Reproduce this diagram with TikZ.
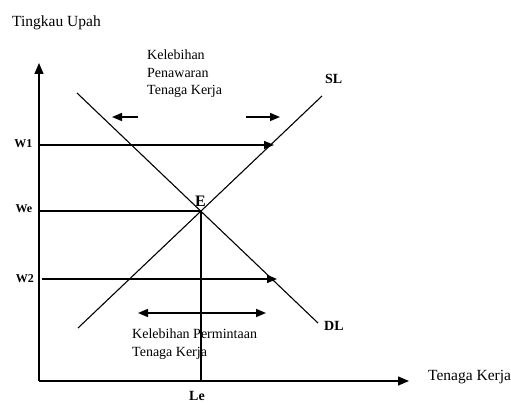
\documentclass[tikz,border=0pt]{standalone}
\usepackage{fontspec}
\setmainfont{Liberation Serif}
\usetikzlibrary{arrows.meta}
\begin{document}
\begin{tikzpicture}[x=1pt,y=-1pt,
  axis/.style={line width=1.5pt,-{Triangle[length=11pt,width=9pt]}},
  curve/.style={line width=1.1pt},
  lvl/.style={line width=1.3pt},
  lvlarr/.style={line width=1.3pt,-{Triangle[length=10pt,width=8pt]}},
  darr/.style={line width=1.5pt,-{Triangle[length=10pt,width=8pt]}},
  ddarr/.style={line width=1.5pt,{Triangle[length=10pt,width=8pt]}-{Triangle[length=10pt,width=8pt]}},
  txt/.style={inner sep=0pt,font=\fontsize{14}{17}\selectfont},
  big/.style={inner sep=0pt,font=\fontsize{15.5}{18}\selectfont},
  blab/.style={inner sep=0pt,font=\fontsize{12}{14}\selectfont\bfseries},
  clab/.style={inner sep=0pt,font=\fontsize{14}{16}\selectfont\bfseries}]
\useasboundingbox (0,0) rectangle (511,403);
% coordinates
\coordinate (O) at (39,381);
\coordinate (Ytop) at (39,63);
\coordinate (Xend) at (409,381);
\coordinate (W1a) at (39,145);
\coordinate (W1b) at (274,145);
\coordinate (Wea) at (39,211);
\coordinate (E) at (201,211);
\coordinate (W2a) at (42,279);
\coordinate (W2b) at (277,279);
\coordinate (Lefoot) at (201,381);
\coordinate (D1) at (77,93);
\coordinate (D2) at (318,323);
\coordinate (S1) at (78,328);
\coordinate (S2) at (322,96);
\coordinate (La) at (138,117);
\coordinate (Lt) at (112,117);
\coordinate (Ra) at (246,117);
\coordinate (Rt) at (280,117);
\coordinate (B1) at (138,313);
\coordinate (B2) at (266,313);
% axes
\draw[axis] (O) -- (Ytop);
\draw[axis] (O) -- (Xend);
% curves
\draw[curve] (D1) -- (D2);
\draw[curve] (S1) -- (S2);
% levels
\draw[lvlarr] (W1a) -- (W1b);
\draw[lvl] (Wea) -- (E);
\draw[lvlarr] (W2a) -- (W2b);
\draw[lvl] (E) -- (Lefoot);
% excess arrows
\draw[darr] (La) -- (Lt);
\draw[darr] (Ra) -- (Rt);
\draw[ddarr] (B1) -- (B2);
% texts
\node[big,anchor=base west] (ty) at (12,27) {Tingkau Upah};
\node[big,anchor=base west] (tx) at (428,380) {Tenaga Kerja};
\node[txt,anchor=base west] (k1) at (147,60) {Kelebihan};
\node[txt,anchor=base west] (k2) at (147,77.5) {Penawaran};
\node[txt,anchor=base west] (k3) at (147,95) {Tenaga Kerja};
\node[txt,anchor=base west] (p1) at (132,338) {Kelebihan Permintaan};
\node[txt,anchor=base west] (p2) at (132,356) {Tenaga Kerja};
\node[blab,anchor=base east] (lw1) at (32.5,148) {W1};
\node[blab,anchor=base east] (lwe) at (32.5,213) {We};
\node[blab,anchor=base east] (lw2) at (34,282) {W2};
\node[clab,anchor=base,font=\fontsize{16}{18}\selectfont\bfseries] (lE) at (200.5,207) {E};
\node[clab,anchor=base west] (lSL) at (325,84) {SL};
\node[clab,anchor=base west] (lDL) at (324,330) {DL};
\node[clab,anchor=base] (lLe) at (197,400) {Le};
\end{tikzpicture}
\end{document}
